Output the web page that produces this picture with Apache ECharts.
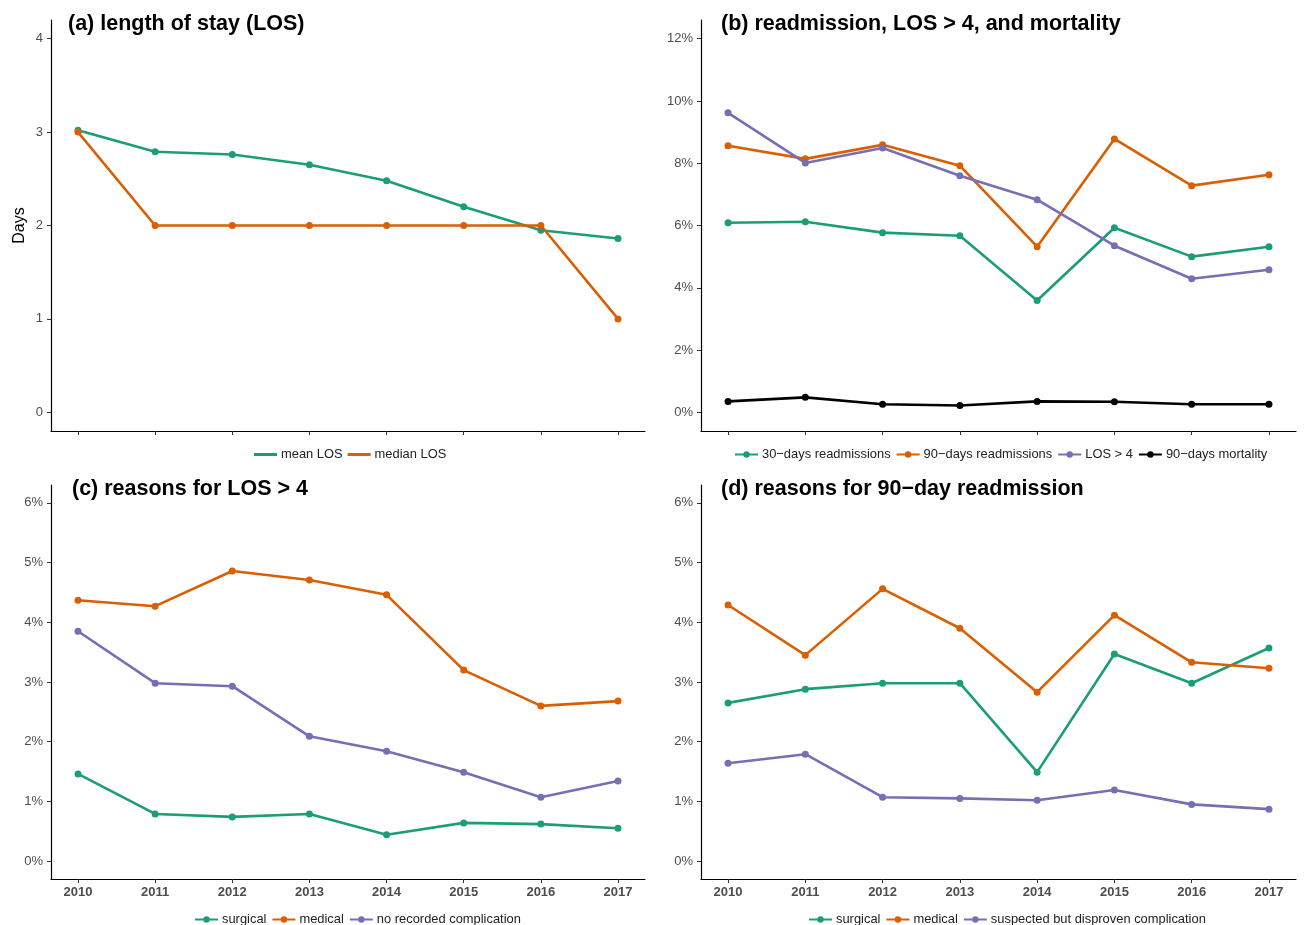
<!DOCTYPE html>
<html>
<head>
<meta charset="utf-8">
<script src="https://cdn.jsdelivr.net/npm/echarts@6/dist/echarts.min.js"></script>
<style>html,body{margin:0;padding:0;background:#fff}#c{width:1304px;height:925px}</style>
</head>
<body>
<div id="c"></div>
<script>
const years = [2010, 2011, 2012, 2013, 2014, 2015, 2016, 2017];

// (a) length of stay (days)
const meanLOS   = [3.02, 2.79, 2.76, 2.65, 2.48, 2.20, 1.95, 1.86];
const medianLOS = [3, 2, 2, 2, 2, 2, 2, 1];

// (b) percent
const readm30   = [6.09, 6.12, 5.77, 5.67, 3.59, 5.93, 5.00, 5.32];
const readm90   = [8.56, 8.14, 8.59, 7.92, 5.32, 8.78, 7.28, 7.63];
const losOver4  = [9.62, 8.01, 8.49, 7.60, 6.83, 5.35, 4.29, 4.58];
const mort90    = [0.35, 0.48, 0.26, 0.22, 0.35, 0.34, 0.26, 0.26];

// (c) reasons for LOS > 4 (percent)
const cSurgical = [1.46, 0.79, 0.74, 0.79, 0.44, 0.64, 0.62, 0.55];
const cMedical  = [4.37, 4.27, 4.86, 4.71, 4.46, 3.20, 2.60, 2.68];
const cNoComp   = [3.85, 2.98, 2.93, 2.09, 1.84, 1.49, 1.07, 1.34];

// (d) reasons for 90-day readmission (percent)
const dSurgical = [2.65, 2.88, 2.98, 2.98, 1.49, 3.47, 2.98, 3.57];
const dMedical  = [4.29, 3.45, 4.56, 3.90, 2.83, 4.12, 3.33, 3.23];
const dSuspect  = [1.64, 1.79, 1.07, 1.05, 1.02, 1.19, 0.95, 0.87];

const ticksA = [0, 1, 2, 3, 4];
const ticksB = [0, 2, 4, 6, 8, 10, 12];
const ticksCD = [0, 1, 2, 3, 4, 5, 6];

const titles = ['(a) length of stay (LOS)', '(b) readmission, LOS > 4, and mortality', '(c) reasons for LOS > 4', '(d) reasons for 90\u2212day readmission'];

const GREEN = '#1B9E77', ORANGE = '#D95F02', PURPLE = '#7570B3', BLACK = '#000000';
const FONT = '"Liberation Sans", Arial, sans-serif';

function pairs(vals) { return years.map((y, i) => [y, vals[i]]); }

function xAxis(idx, showLabels) {
  return {
    type: 'value', gridIndex: idx, min: 2009.65, max: 2017.35,
    axisLine: { show: true, onZero: false, lineStyle: { color: '#000', width: 1.2 } },
    axisTick: { show: true, length: 4, customValues: years, lineStyle: { color: '#333', width: 1 } },
    axisLabel: { show: showLabels, customValues: years, color: '#4d4d4d', fontSize: 13, fontWeight: 'bold', fontFamily: FONT, margin: 7,
      formatter: v => String(v) },
    splitLine: { show: false }
  };
}
function yAxis(idx, lo, hi, ticks, pct, name) {
  return {
    type: 'value', gridIndex: idx, min: lo, max: hi,
    name: name || '', nameLocation: 'middle', nameGap: 23,
    nameTextStyle: { color: '#000', fontSize: 16, fontFamily: FONT },
    axisLine: { show: true, onZero: false, lineStyle: { color: '#000', width: 1.2 } },
    axisTick: { show: true, length: 4, customValues: ticks, lineStyle: { color: '#333', width: 1 } },
    axisLabel: { customValues: ticks, color: '#4d4d4d', fontSize: 13, fontFamily: FONT, margin: 8,
      formatter: pct ? (v => v + '%') : (v => String(v)) },
    splitLine: { show: false }
  };
}
function line(name, vals, color, idx) {
  return {
    type: 'line', name: name, xAxisIndex: idx, yAxisIndex: idx,
    data: pairs(vals), symbol: 'circle', symbolSize: 7, showSymbol: true,
    lineStyle: { color: color, width: 2.6 }, itemStyle: { color: color },
    emphasis: { disabled: true }, animation: false
  };
}
function legend(left, top, names, plainLine) {
  return {
    left: left, top: top, orient: 'horizontal', itemGap: 5, itemWidth: 23, itemHeight: plainLine ? 3 : 8,
    data: names.map(n => plainLine ? { name: n, icon: 'rect' } : { name: n }),
    textStyle: { color: '#222', fontSize: 12.9, fontFamily: FONT, padding: [0, 0, 0, -1] },
    selectedMode: false
  };
}

const option = {
  backgroundColor: '#fff',
  animation: false,
  title: [
    { text: titles[0], left: 63, top: 8 },
    { text: titles[1], left: 716, top: 8 },
    { text: titles[2], left: 67, top: 473 },
    { text: titles[3], left: 716, top: 473 }
  ].map(t => Object.assign(t, { textStyle: { fontSize: 21.5, fontWeight: 'bold', color: '#000', fontFamily: FONT } })),
  grid: [
    { left: 51, top: 20, width: 594, height: 411 },
    { left: 701, top: 20, width: 595, height: 411 },
    { left: 51, top: 485, width: 594, height: 394 },
    { left: 701, top: 485, width: 595, height: 394 }
  ],
  xAxis: [xAxis(0, false), xAxis(1, false), xAxis(2, true), xAxis(3, true)],
  yAxis: [
    yAxis(0, -0.2, 4.2, ticksA, false, 'Days'),
    yAxis(1, -0.6, 12.6, ticksB, true),
    yAxis(2, -0.3, 6.3, ticksCD, true),
    yAxis(3, -0.3, 6.3, ticksCD, true)
  ],
  legend: [
    legend(249, 443, ['mean LOS', 'median LOS'], true),
    legend(729, 443, ['30\u2212days readmissions', '90\u2212days readmissions', 'LOS > 4', '90\u2212days mortality'], false),
    legend(189, 908, ['surgical', 'medical', 'no recorded complication'], false),
    legend(803, 908, ['surgical', 'medical', 'suspected but disproven complication'], false)
  ],
  series: [
    line('mean LOS', meanLOS, GREEN, 0),
    line('median LOS', medianLOS, ORANGE, 0),
    line('30\u2212days readmissions', readm30, GREEN, 1),
    line('90\u2212days readmissions', readm90, ORANGE, 1),
    line('LOS > 4', losOver4, PURPLE, 1),
    line('90\u2212days mortality', mort90, BLACK, 1),
    line('surgical', cSurgical, GREEN, 2),
    line('medical', cMedical, ORANGE, 2),
    line('no recorded complication', cNoComp, PURPLE, 2),
    line('surgical', dSurgical, GREEN, 3),
    line('medical', dMedical, ORANGE, 3),
    line('suspected but disproven complication', dSuspect, PURPLE, 3)
  ]
};

const chart = echarts.init(document.getElementById('c'), null, { renderer: 'canvas' });
chart.setOption(option);
</script>
</body>
</html>
